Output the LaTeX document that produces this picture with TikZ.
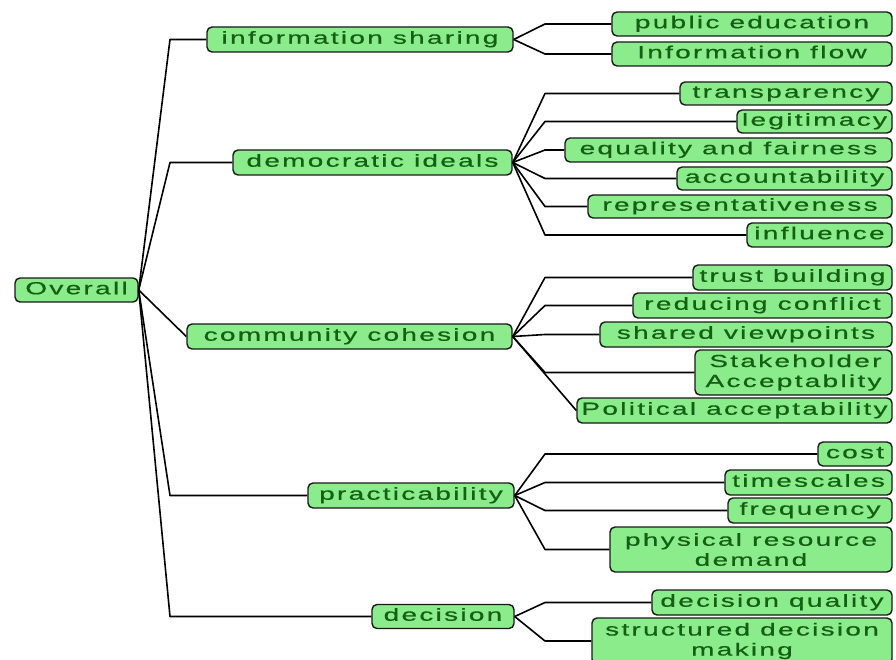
\documentclass[tikz,border=0pt]{standalone}
\usepackage{fontspec}
\newfontfamily\boxfont[FakeStretch=1.6,LetterSpace=13,FakeBold=0.6]{Liberation Sans}
\definecolor{boxfill}{RGB}{138,236,138}
\definecolor{boxtext}{RGB}{20,95,20}
\definecolor{boxline}{RGB}{25,25,25}
\tikzset{
  box/.style={draw=boxline, line width=1.4pt, fill=boxfill, rounded corners=5pt,
    inner sep=0pt, text=boxtext, text height=12.5pt, text depth=4pt,
    font=\boxfont\fontsize{17.5}{20}\selectfont},
  twoline/.style={text height=, text depth=, align=center},
  link/.style={draw=black, line width=1.6pt, line join=round},
}
\begin{document}
\begin{tikzpicture}[x=1pt,y=-1pt]
\useasboundingbox (0,0) rectangle (896,660);
\clip (0,0) rectangle (896,660);
\fill[white] (0,0) rectangle (896,660);

% elbow columns
\coordinate (e0) at (170,0);
\coordinate (e1) at (545,0);

% root and first level
\node[box, minimum width=123pt, minimum height=24pt] (ov) at (76.5,290) {Overall};
\node[box, minimum width=306pt, minimum height=25pt] (infosh) at (360,39.5) {information sharing};
\node[box, minimum width=279pt, minimum height=25pt] (demo) at (372.5,162.5) {democratic ideals};
\node[box, minimum width=325pt, minimum height=25pt] (comm) at (349.5,336.5) {community cohesion};
\node[box, minimum width=206pt, minimum height=25pt] (pract) at (411,495.5) {practicability};
\node[box, minimum width=142pt, minimum height=24pt] (decis) at (443,616.5) {decision};

% leaves
\node[box, minimum width=280pt, minimum height=24pt] (pubedu) at (752,24) {public education};
\node[box, minimum width=280pt, minimum height=24pt] (infoflow) at (752,54) {Information flow};

\node[box, minimum width=212pt, minimum height=23pt] (transp) at (786,93.5) {transparency};
\node[box, minimum width=155pt, minimum height=23pt] (legit) at (814.5,121.5) {legitimacy};
\node[box, minimum width=327pt, minimum height=24pt] (equal) at (728.5,150) {equality and fairness};
\node[box, minimum width=215pt, minimum height=23pt] (account) at (784.5,178.5) {accountability};
\node[box, minimum width=304pt, minimum height=23pt] (repres) at (740,206.5) {representativeness};
\node[box, minimum width=145pt, minimum height=24pt] (influ) at (819.5,235) {influence};

\node[box, minimum width=199pt, minimum height=25pt] (trust) at (792.5,277.5) {trust building};
\node[box, minimum width=259pt, minimum height=25pt] (reduc) at (762.5,305.5) {reducing conflict};
\node[box, minimum width=292pt, minimum height=25pt] (shared) at (746,334.5) {shared viewpoints};
\node[box, twoline, align=right, minimum width=197pt, minimum height=45pt] (stake) at (793.5,372.5) {Stakeholder\\Acceptablity};
\node[box, minimum width=315pt, minimum height=25pt] (polit) at (734.5,410.5) {Political acceptability};

\node[box, minimum width=74pt, minimum height=24pt] (cost) at (855,454) {cost};
\node[box, minimum width=167pt, minimum height=25pt] (times) at (808.5,482.5) {timescales};
\node[box, minimum width=164pt, minimum height=25pt] (freq) at (810,510.5) {frequency};
\node[box, twoline, minimum width=282pt, minimum height=45pt] (phys) at (751,549.5) {physical resource\\demand};

\node[box, minimum width=240pt, minimum height=25pt] (decq) at (772,602.5) {decision quality};
\node[box, twoline, minimum width=300pt, minimum height=46pt] (struct) at (742,641) {structured decision\\making};

% connectors from the root
\draw[link] (ov.east) -- (e0 |- infosh.west) -- (infosh.west);
\draw[link] (ov.east) -- (e0 |- demo.west) -- (demo.west);
\draw[link] (ov.east) -- (comm.west);
\draw[link] (ov.east) -- (e0 |- pract.west) -- (pract.west);
\draw[link] (ov.east) -- (e0 |- decis.west) -- (decis.west);

% connectors to the leaves
\foreach \p/\c in {infosh/pubedu, infosh/infoflow,
  demo/transp, demo/legit, demo/equal, demo/account, demo/repres, demo/influ,
  comm/trust, comm/reduc, comm/shared, comm/stake,
  pract/cost, pract/times, pract/freq, pract/phys,
  decis/decq, decis/struct}
  \draw[link] (\p.east) -- (e1 |- \c.west) -- (\c.west);
\draw[link] (comm.east) -- (polit.west);
\end{tikzpicture}
\end{document}
